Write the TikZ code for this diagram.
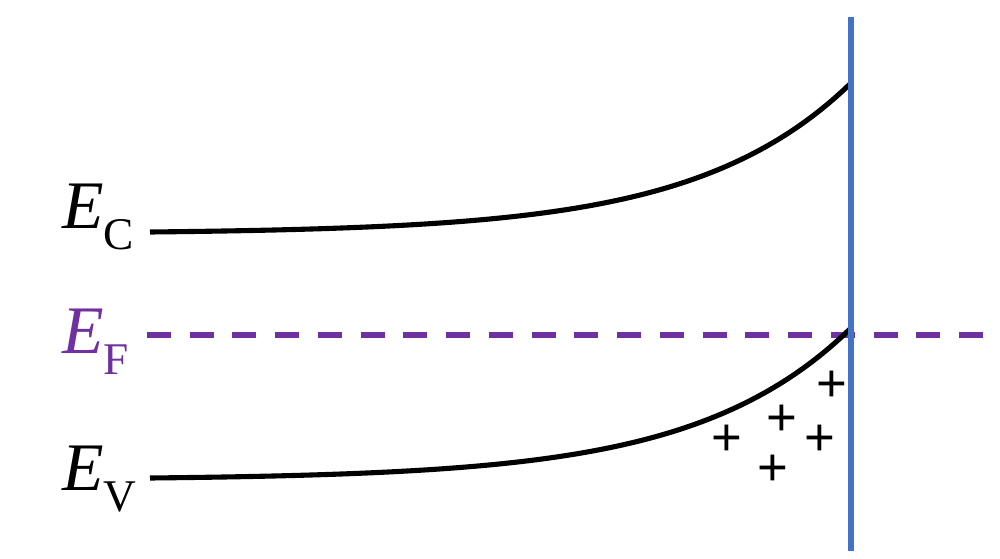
\documentclass[tikz,border=0pt]{standalone}
\usepackage{fontspec}
\setmainfont{Liberation Serif}
\newfontfamily\plusfont{Liberation Sans}

\definecolor{fermipurple}{RGB}{112,48,160}
\definecolor{surfblue}{RGB}{68,114,196}

\newcommand{\bandlabel}[2]{\fontsize{38.7}{40}\selectfont\textit{#1}\raisebox{-12.5pt}{\fontsize{25.8}{26}\selectfont #2}}

\tikzset{
    band/.style={line width=2.9pt},
    charge/.style={inner sep=0pt, yshift=-1.5pt, font=\plusfont\fontsize{30}{30}\selectfont}
}

\begin{document}
\begin{tikzpicture}[x=0.02cm,y=-0.02cm]
    \useasboundingbox (0,0) rectangle (1000,558);

    % Fermi level
    \draw[fermipurple,line width=2.9pt,dash pattern=on 0.48cm off 0.375cm] (147,335) -- (1000,335);

    % Band edges (bent up towards the surface)
    \draw[band] plot[domain=150:851,samples=90] (\x,{232-1.636*(exp((\x-150)/155)-1)});
    \draw[band] plot[domain=150:851,samples=90] (\x,{478-1.647*(exp((\x-150)/155)-1)});

    % Surface
    \draw[surfblue,line width=3.4pt] (851,17) -- (851,551);

    % Labels
    \node[anchor=base west,inner sep=0pt] (ec) at (62,228) {\bandlabel{E}{C}};
    \node[anchor=base west,inner sep=0pt,text=fermipurple] (ef) at (62,353) {\bandlabel{E}{F}};
    \node[anchor=base west,inner sep=0pt] (ev) at (62,490) {\bandlabel{E}{V}};

    % Holes near the surface
    \foreach \px/\py [count=\i] in {832/384,782/418,727/438,820/438,773/468}
        \node[charge] (h\i) at (\px,\py) {+};

\end{tikzpicture}
\end{document}
